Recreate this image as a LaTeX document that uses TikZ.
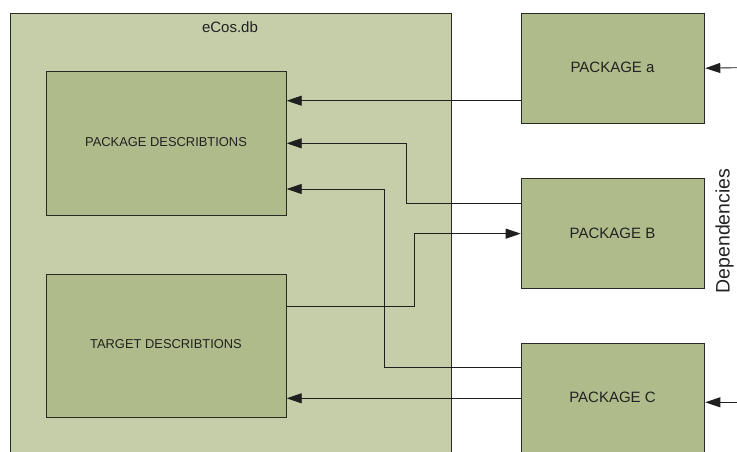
\documentclass[tikz,border=0pt]{standalone}
\usepackage{fontspec}
\setmainfont{Liberation Sans}
\usetikzlibrary{arrows.meta}
\definecolor{outerfill}{RGB}{198,206,169}
\definecolor{innerfill}{RGB}{175,187,138}
\definecolor{edgecol}{RGB}{40,42,36}
\definecolor{txtcol}{RGB}{34,34,34}
\begin{document}
\begin{tikzpicture}[x=1pt,y=-1pt,
  container/.style={draw=edgecol, line width=1.2pt, fill=outerfill, inner sep=0pt, anchor=north west},
  box/.style={draw=edgecol, line width=1pt, fill=innerfill, inner sep=0pt, anchor=north west, text=txtcol},
  conn/.style={draw=black!88, line width=0.9pt},
  arr/.style={conn, -{Triangle[length=15pt,width=10pt]}},
  lbl/.style={text=txtcol, inner sep=0pt},
]
\useasboundingbox (0,0) rectangle (737,451);
\clip (0,0) rectangle (737,451);
% container
\node[container, minimum width=441.2pt, minimum height=460pt] (db) at (9.5,12.7) {};
\node[lbl, font=\fontsize{15}{18}\selectfont] (dblabel) at (230,27) {eCos.db};
% inner boxes
\node[box, minimum width=239.4pt, minimum height=143.4pt] (pd) at (46.3,71.3) {};
\node[lbl, font=\fontsize{12.9}{15}\selectfont] (pdlabel) at (166,142.5) {PACKAGE DESCRIBTIONS};
\node[box, minimum width=239.4pt, minimum height=143pt] (td) at (46.3,273.7) {};
\node[lbl, font=\fontsize{12.9}{15}\selectfont] (tdlabel) at (166,344.5) {TARGET DESCRIBTIONS};
% packages
\node[box, minimum width=183.6pt, minimum height=110pt] (pa) at (520.7,12.7) {};
\node[lbl, font=\fontsize{15}{18}\selectfont] (palabel) at (612.5,67.7) {PACKAGE a};
\node[box, minimum width=183.6pt, minimum height=109.7pt] (pb) at (520.7,178.3) {};
\node[lbl, font=\fontsize{15}{18}\selectfont] (pblabel) at (612.5,233.2) {PACKAGE B};
\node[box, minimum width=183.6pt, minimum height=110pt] (pc) at (520.7,343.3) {};
\node[lbl, font=\fontsize{15}{18}\selectfont] (pclabel) at (612.5,397.5) {PACKAGE C};
% dependencies label
\node[lbl, font=\fontsize{19.5}{22}\selectfont, rotate=90] (dep) at (724.5,231) {Dependencies};
% row / column helpers
\coordinate (r1) at (0,100.7);
\coordinate (r2) at (0,143.3);
\coordinate (r2b) at (0,203.3);
\coordinate (r3) at (0,189);
\coordinate (r3b) at (0,367.7);
\coordinate (r4) at (0,306);
\coordinate (r5) at (0,398.3);
\coordinate (k2) at (406.7,0);
\coordinate (k3) at (414,0);
\coordinate (k4) at (384.7,0);
\coordinate (ea) at (737,67.7);
\coordinate (ec) at (737,402.3);
% connectors
\draw[arr] (pa.west |- r1) -- (pd.east |- r1);
\draw[arr] (pb.west |- r2b) -| (k2 |- r2) -- (pd.east |- r2);
\draw[arr] (pc.west |- r3b) -| (k4 |- r3) -- (pd.east |- r3);
\draw[arr] (td.east |- r4) -| (k3 |- pb.west) -- (pb.west);
\draw[arr] (pc.west |- r5) -- (td.east |- r5);
\draw[arr] (ea) -- (pa.east);
\draw[arr] (ec) -- (pc.east |- ec);
\end{tikzpicture}
\end{document}
